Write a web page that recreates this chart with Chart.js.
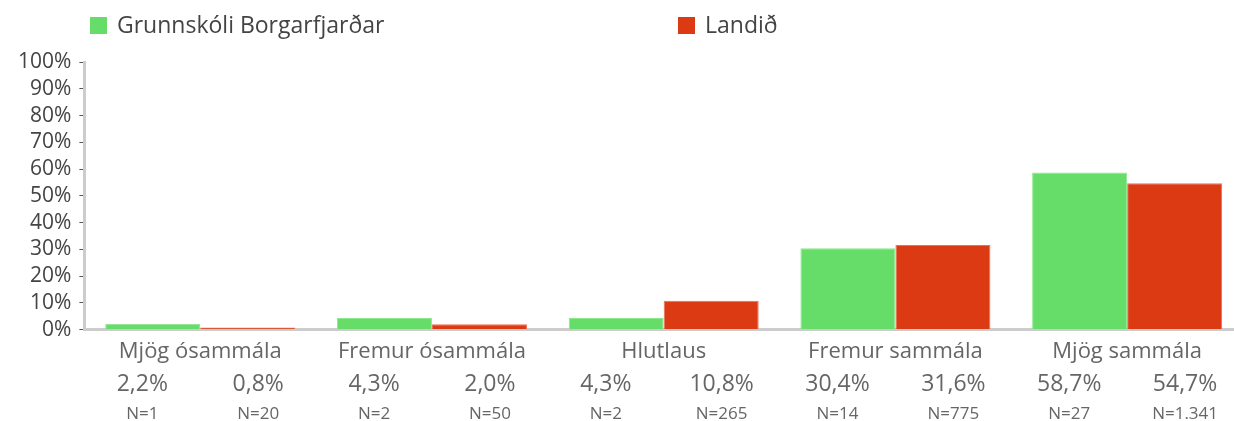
<!DOCTYPE html>
<html lang="is">
<head>
    <meta charset="UTF-8">
    <title>Grunnskóli Borgarfjarðar</title>
    <script src="https://cdn.jsdelivr.net/npm/chart.js"></script>
    <style>
        body { margin: 0; overflow: hidden; background: #fff; font-family: "Open Sans", sans-serif; }
        .wrap { position: relative; width: 1243px; height: 421px; }
        .legend { position: absolute; top: 8px; font-size: 23px; color: #444; white-space: nowrap; }
        .legend span.box { display: inline-block; width: 17px; height: 17px; margin-right: 10px; vertical-align: -1px; }
    </style>
</head>
<body>
    <div class="wrap">
        <div id="legend"></div>
        <canvas id="barChart"></canvas>
    </div>

    <script>
        // Data
        const categories = ['Mjög ósammála', 'Fremur ósammála', 'Hlutlaus', 'Fremur sammála', 'Mjög sammála'];
        const seriesNames = ['Grunnskóli Borgarfjarðar', 'Landið'];
        const schoolValues = [2.2, 4.3, 4.3, 30.4, 58.7];
        const countryValues = [0.8, 2.0, 10.8, 31.6, 54.7];
        const schoolN = ['1', '2', '2', '14', '27'];
        const countryN = ['20', '50', '265', '775', '1.341'];
        const yTicks = [0, 10, 20, 30, 40, 50, 60, 70, 80, 90, 100];

        const colors = ['#66dc69', '#dc3a13'];
        const legendLeft = [90, 678];
        const FONT = '"Open Sans"';

        // html legend, spread out like the original
        const legendEl = document.getElementById('legend');
        seriesNames.forEach((name, i) => {
            const d = document.createElement('div');
            d.className = 'legend';
            d.style.left = legendLeft[i] + 'px';
            d.innerHTML = '<span class="box" style="background:' + colors[i] + '"></span>' + name;
            legendEl.appendChild(d);
        });

        const fmt = v => v.toFixed(1).replace('.', ',') + '%';

        // percentages and N under each bar
        const underLabels = {
            id: 'underLabels',
            afterDraw(chart) {
                const ctx = chart.ctx;
                const xs = chart.scales.x;
                const step = xs.width / categories.length;
                const values = [schoolValues, countryValues];
                const ns = [schoolN, countryN];
                ctx.save();
                ctx.textAlign = 'center';
                ctx.textBaseline = 'middle';
                ctx.fillStyle = '#666';
                for (let i = 0; i < 2; i++) {
                    for (let j = 0; j < categories.length; j++) {
                        const x = xs.getPixelForValue(j) + (i === 0 ? -1 : 1) * step / 4;
                        ctx.font = '23px ' + FONT;
                        ctx.fillText(fmt(values[i][j]), x, 384);
                        ctx.font = '17px ' + FONT;
                        ctx.fillText('N=' + ns[i][j], x, 414);
                    }
                }
                ctx.restore();
            }
        };

        new Chart(document.getElementById('barChart'), {
            type: 'bar',
            data: {
                labels: categories,
                datasets: [
                    { label: seriesNames[0], data: schoolValues, backgroundColor: colors[0], borderColor: '#8be88d', borderWidth: 1 },
                    { label: seriesNames[1], data: countryValues, backgroundColor: colors[1], borderColor: '#e8705a', borderWidth: 1 }
                ]
            },
            options: {
                responsive: true,
                maintainAspectRatio: false,
                animation: false,
                layout: { padding: { top: 62, left: 10, right: 0, bottom: 55 } },
                plugins: {
                    legend: { display: false },
                    tooltip: { enabled: false }
                },
                datasets: {
                    bar: { categoryPercentage: 0.82, barPercentage: 1.0 }
                },
                scales: {
                    x: {
                        grid: { display: false },
                        border: { color: '#cccccc', width: 3 },
                        ticks: { color: '#666', font: { family: FONT, size: 22 }, padding: 1 }
                    },
                    y: {
                        min: 0,
                        max: 100,
                        afterBuildTicks: axis => { axis.ticks = yTicks.map(v => ({ value: v })); },
                        grid: { drawOnChartArea: false, drawTicks: true, tickLength: 5, color: '#555' },
                        border: { color: '#cccccc', width: 3 },
                        ticks: { color: '#444', font: { family: FONT, size: 21 }, padding: 8, autoSkip: false, callback: v => v + '%' }
                    }
                }
            },
            plugins: [underLabels]
        });
    </script>
</body>
</html>
